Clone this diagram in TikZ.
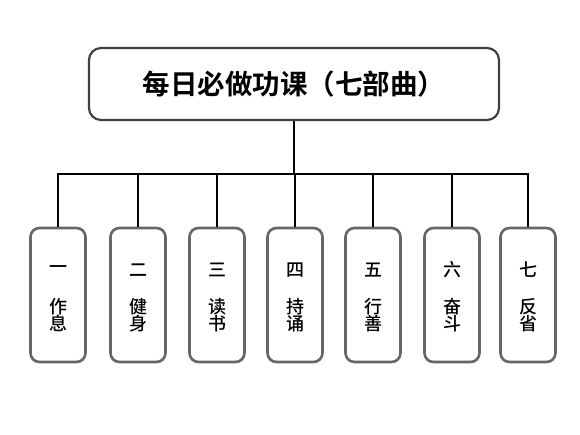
\documentclass[tikz,border=0pt]{standalone}
\usepackage{fontspec}
\newfontfamily\cjk{Noto Sans CJK SC Medium}
\newfontfamily\cjkbold{Noto Sans CJK SC Bold}
\begin{document}
\begin{tikzpicture}[x=1pt,y=-1pt,
  topbox/.style={draw=black!75,line width=2.2pt,rounded corners=12pt,fill=white,
    minimum width=410pt,minimum height=72pt,inner sep=0pt,
    font=\cjkbold\fontsize{27.5}{30}\selectfont},
  itembox/.style={draw=black!60,line width=2.6pt,rounded corners=9pt,fill=white,
    minimum width=55pt,minimum height=134pt,inner sep=0pt},
  itemtxt/.style={font=\cjk\fontsize{18}{17.5}\selectfont,align=center,inner sep=0pt},
  link/.style={line width=2pt,black}]
\useasboundingbox (0,0) rectangle (580,435);
\node[topbox] (top) at (294,84) {每日必做功课（七部曲）};
\coordinate (bus) at (294,174);
\foreach \i/\x/\a/\b/\c in {1/58/一/作/息,2/138/二/健/身,3/217/三/读/书,4/295/四/持/诵,5/373/五/行/善,6/452/六/奋/斗,7/528/七/反/省}{
  \node[itembox] (b\i) at (\x,295) {};
  \node[itemtxt] (n\i) at (\x,270) {\a};
  \node[itemtxt] (t\i) at (\x,315) {\b\\\c};
}
\draw[link] (top.south) -- (bus);
\draw[link] (b1.north) |- (bus) -| (b7.north);
\foreach \i in {2,3,4,5,6}{
  \draw[link] (b\i.north) -- (b\i.north |- bus);
}
\end{tikzpicture}
\end{document}
